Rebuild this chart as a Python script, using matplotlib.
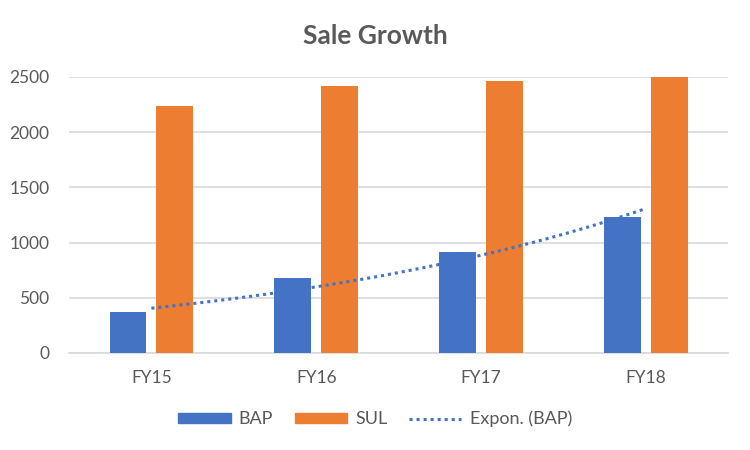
import numpy as np
import matplotlib.pyplot as plt
from matplotlib.patches import Patch
from matplotlib.lines import Line2D

years = ["FY15", "FY16", "FY17", "FY18"]
bap = [370, 678, 912, 1231]
sul = [2234, 2415, 2460, 2500]
y_ticks = [0, 500, 1000, 1500, 2000, 2500]

blue = "#4472C4"
orange = "#ED7D31"
grey = "#595959"

plt.rcParams['font.family'] = ['Lato', 'DejaVu Sans']

fig = plt.figure(figsize=(7.5, 4.5), dpi=100)
ax = fig.add_axes([0.092, 0.2156, 0.879, 0.6134])

x = np.arange(len(years))
w = 0.224
ax.bar(x - 0.142, bap, w, color=blue, zorder=3)
ax.bar(x + 0.142, sul, w, color=orange, zorder=3)

# exponential trendline on BAP, like Excel's Expon.
b, a = np.polyfit(x + 1, np.log(bap), 1)
xt = np.linspace(0, len(years) - 1, 100)
ax.plot(xt, np.exp(a + b * (xt + 1)), color=blue, linestyle=(0, (1, 1.3)),
        linewidth=2.2, zorder=4)

ax.set_xlim(-0.5, len(years) - 0.5)
ax.set_ylim(0, 2500)
ax.set_yticks(y_ticks)
ax.set_xticks(x)
ax.set_xticklabels(years)
ax.yaxis.grid(True, color="#d9d9d9", linewidth=1.2, zorder=0)
for s in ["top", "right", "left"]:
    ax.spines[s].set_visible(False)
ax.spines["bottom"].set_color("#d9d9d9")
ax.spines["bottom"].set_linewidth(1.2)
ax.tick_params(length=0, labelsize=12.5, colors=grey)
ax.tick_params(axis="x", pad=12)
ax.tick_params(axis="y", pad=14)

fig.text(0.5, 0.92, "Sale Growth", ha="center", va="center",
         fontsize=19, fontweight="bold", color=grey)

handles = [Patch(color=blue), Patch(color=orange),
           Line2D([0], [0], color=blue, linestyle=(0, (1, 1.3)), linewidth=2.2)]
fig.legend(handles, ["BAP", "SUL", "Expon. (BAP)"], loc="center",
           bbox_to_anchor=(0.5, 0.069), ncol=3, frameon=False,
           fontsize=13, labelcolor=grey, handlelength=2.9, handleheight=0.45,
           columnspacing=1.2, handletextpad=0.45)

fig.savefig("out.png", dpi=100)
